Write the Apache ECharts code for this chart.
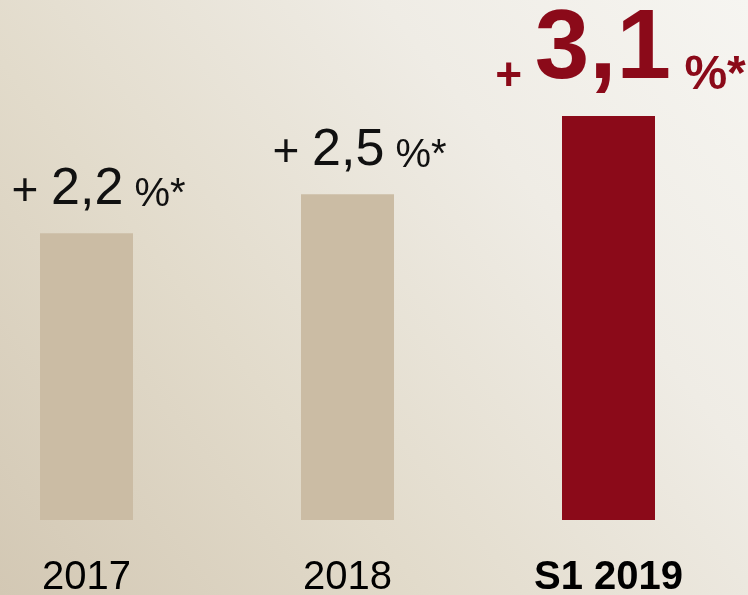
<!DOCTYPE html>
<html>
<head>
<meta charset="utf-8">
<script src="https://cdn.jsdelivr.net/npm/echarts@6/dist/echarts.min.js"></script>
<style>
  html, body { margin: 0; padding: 0; }
  #chart-container { width: 748px; height: 595px; }
</style>
</head>
<body>
<div id="chart-container"></div>
<script>
// growth per period, in percent
const categories = ["2017", "2018", "S1 2019"];
const values = [2.2, 2.5, 3.1];
const highlightIndex = 2;

const FONT = "'Liberation Sans', Arial, sans-serif";
const TAN = "#cbbca4";
const RED = "#8b0a19";

const fmt = (v) => v.toFixed(1).replace(".", ",");

// tokens aligned on a shared baseline: lineHeight = 2 * (c + 0.35 * fontSize)
function tok(size, c, extra) {
  return Object.assign(
    { fontSize: size, verticalAlign: "bottom", lineHeight: Math.round(2 * (c + 0.35 * size)) },
    extra
  );
}
const plainRich = {
  p: tok(46, 8, { color: "#111" }),
  n: tok(52, 8, { color: "#111" }),
  s: tok(40, 8, { color: "#111" }),
};
const boldRich = {
  p: tok(46, 15, { color: RED, fontWeight: "bold" }),
  n: tok(98, 15, { color: RED, fontWeight: "bold" }),
  s: tok(48, 15, { color: RED, fontWeight: "bold" }),
};

const chart = echarts.init(document.getElementById("chart-container"));

chart.setOption({
  animation: false,
  backgroundColor: {
    type: "linear",
    x: 0, y: 1, x2: 1, y2: 0,
    colorStops: [
      { offset: 0, color: "#d3c8b4" },
      { offset: 0.35, color: "#e2dbcb" },
      { offset: 0.7, color: "#efece5" },
      { offset: 1, color: "#f6f5f1" },
    ],
  },
  grid: { left: -44, width: 783, top: 64, height: 456, outerBoundsMode: "none" },
  xAxis: {
    type: "category",
    data: categories.map((c, i) => ({
      value: c,
      textStyle: { fontWeight: i === highlightIndex ? "bold" : "normal" },
    })),
    axisLine: { show: false },
    axisTick: { show: false },
    axisLabel: { fontSize: 40, color: "#000", fontFamily: FONT, margin: 38 },
  },
  yAxis: { type: "value", min: 0, max: 3.5, show: false },
  series: [
    {
      type: "bar",
      barWidth: 93,
      data: values.map((v, i) => ({
        value: v,
        itemStyle: { color: i === highlightIndex ? RED : TAN },
        label: {
          rich: i === highlightIndex ? boldRich : plainRich,
          distance: i === highlightIndex ? 16 : 18,
        },
      })),
      label: {
        show: true,
        position: "top",
        offset: [12, 0],
        fontFamily: FONT,
        formatter: (p) => "{p|+ }{n|" + fmt(p.value) + "}{s| %*}",
      },
    },
  ],
});
</script>
</body>
</html>
